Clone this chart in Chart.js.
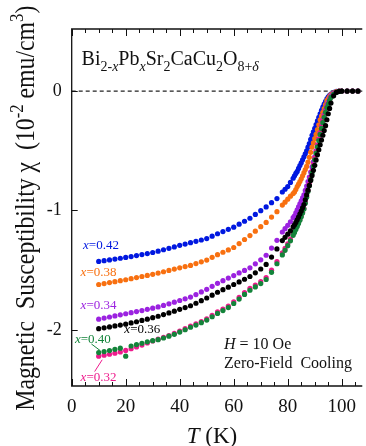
<!DOCTYPE html>
<html>
<head>
<meta charset="utf-8">
<script src="https://cdn.jsdelivr.net/npm/chart.js@4.4.0/dist/chart.umd.min.js"></script>
<style>
  html, body { margin: 0; padding: 0; background: #fff; }
</style>
</head>
<body>
<canvas id="chi" width="366" height="446"></canvas>
<script>
// temperatures (K), shared by all samples
const temps = [10,12,14,16,18,20,22,24,26,28,30,32,34,36,38,40,42,44,46,48,50,52,54,56,58,60,62,64,66,68,70,72,74,76,78,
  79,80,81,82,
  82.5,83,83.5,84,84.5,85,85.5,86,86.5,87,87.5,88,88.5,89,89.5,90,90.5,91,91.5,92,92.5,93,93.5,94,94.5,95,95.5,96,
  97,98,99,100,102,104,106];

// susceptibility (10^-2 emu/cm3)
const chi042 = [-1.427,-1.420,-1.414,-1.407,-1.400,-1.393,-1.386,-1.378,-1.369,-1.361,-1.352,-1.341,-1.329,-1.317,-1.305,-1.292,-1.281,-1.270,-1.258,-1.247,-1.235,-1.215,-1.195,-1.177,-1.158,-1.140,-1.115,-1.090,-1.065,-1.033,-1.002,-0.970,-0.935,-0.900,-0.845,
  -0.822,-0.800,-0.765,-0.730,
  -0.710,-0.690,-0.673,-0.648,-0.624,-0.600,-0.575,-0.550,-0.525,-0.500,-0.470,-0.440,-0.405,-0.370,-0.341,-0.312,-0.281,-0.250,-0.219,-0.190,-0.161,-0.135,-0.110,-0.087,-0.066,-0.048,-0.036,-0.025,
  -0.011,-0.003,-0.001,0,0,0,0];
const chi038 = [-1.620,-1.612,-1.604,-1.596,-1.588,-1.580,-1.571,-1.562,-1.553,-1.544,-1.535,-1.524,-1.513,-1.502,-1.491,-1.480,-1.470,-1.460,-1.445,-1.430,-1.415,-1.392,-1.370,-1.350,-1.330,-1.310,-1.277,-1.243,-1.210,-1.173,-1.136,-1.100,-1.055,-1.010,-0.955,
  -0.930,-0.905,-0.880,-0.858,
  -0.845,-0.825,-0.800,-0.780,-0.758,-0.735,-0.709,-0.683,-0.657,-0.631,-0.595,-0.555,-0.513,-0.470,-0.434,-0.398,-0.362,-0.323,-0.282,-0.240,-0.209,-0.178,-0.147,-0.113,-0.080,-0.062,-0.045,-0.030,
  -0.015,-0.005,-0.001,0,0,0,0];
const chi034 = [-1.910,-1.901,-1.892,-1.883,-1.874,-1.865,-1.856,-1.847,-1.838,-1.828,-1.818,-1.808,-1.795,-1.782,-1.768,-1.754,-1.740,-1.725,-1.704,-1.682,-1.660,-1.635,-1.610,-1.588,-1.566,-1.545,-1.523,-1.502,-1.480,-1.447,-1.413,-1.375,-1.315,-1.250,-1.180,
  -1.152,-1.124,-1.095,-1.060,
  -1.045,-1.020,-0.995,-0.970,-0.945,-0.920,-0.895,-0.870,-0.832,-0.795,-0.758,-0.720,-0.678,-0.635,-0.592,-0.550,-0.500,-0.450,-0.400,-0.347,-0.293,-0.240,-0.200,-0.160,-0.120,-0.093,-0.066,-0.040,
  -0.022,-0.010,-0.003,0,0,0,0];
const chi036 = [-1.990,-1.983,-1.975,-1.967,-1.960,-1.952,-1.942,-1.932,-1.921,-1.910,-1.898,-1.886,-1.872,-1.858,-1.843,-1.828,-1.813,-1.798,-1.777,-1.755,-1.733,-1.709,-1.685,-1.663,-1.642,-1.620,-1.598,-1.576,-1.553,-1.522,-1.490,-1.452,-1.390,-1.322,-1.252,
  -1.225,-1.198,-1.170,-1.137,
  -1.120,-1.100,-1.078,-1.055,-1.030,-1.005,-0.978,-0.950,-0.910,-0.870,-0.830,-0.790,-0.748,-0.706,-0.664,-0.622,-0.578,-0.534,-0.492,-0.450,-0.410,-0.370,-0.330,-0.290,-0.240,-0.190,-0.145,-0.100,
  -0.040,-0.010,-0.002,0,0,0,0];
const chi040 = [-2.190,-2.182,-2.173,-2.163,-2.153,-2.220,-2.135,-2.123,-2.112,-2.100,-2.090,-2.082,-2.068,-2.053,-2.037,-2.018,-1.999,-1.978,-1.960,-1.940,-1.918,-1.890,-1.862,-1.838,-1.813,-1.779,-1.742,-1.703,-1.668,-1.640,-1.612,-1.578,-1.518,-1.446,-1.372,
  -1.334,-1.295,-1.254,-1.208,
  -1.184,-1.160,-1.135,-1.110,-1.082,-1.053,-1.022,-0.988,-0.940,-0.890,-0.842,-0.793,-0.740,-0.685,-0.630,-0.575,-0.520,-0.467,-0.414,-0.363,-0.313,-0.263,-0.220,-0.178,-0.138,-0.108,-0.080,-0.053,
  -0.027,-0.011,-0.003,0,0,0,0];
const chi032 = [-2.220,-2.212,-2.204,-2.195,-2.185,-2.172,-2.158,-2.143,-2.127,-2.110,-2.093,-2.078,-2.063,-2.047,-2.030,-2.010,-1.990,-1.968,-1.950,-1.930,-1.908,-1.878,-1.850,-1.825,-1.800,-1.765,-1.727,-1.688,-1.652,-1.625,-1.596,-1.562,-1.500,-1.428,-1.355,
  -1.318,-1.280,-1.240,-1.195,
  -1.172,-1.148,-1.124,-1.100,-1.073,-1.045,-1.015,-0.982,-0.932,-0.882,-0.832,-0.782,-0.727,-0.672,-0.617,-0.562,-0.508,-0.455,-0.402,-0.352,-0.302,-0.252,-0.210,-0.170,-0.130,-0.103,-0.076,-0.050,
  -0.025,-0.010,-0.003,0,0,0,0];

const xTicks = [0,20,40,60,80,100];
const xMinor = [5,10,15,25,30,35,45,50,55,65,70,75,85,90,95,105];
const yTicks = [0,-1,-2];

const serif = "'Liberation Serif','Times New Roman',serif";

// first dataset is drawn on top
const series = [
  {label:'0.36', data:chi036, color:'#000000', lx:19.5, ly:-2.028},
  {label:'0.40', data:chi040, color:'#13843a', lx:1.2,  ly:-2.106},
  {label:'0.32', data:chi032, color:'#ee1a8c', lx:3.3,  ly:-2.427},
  {label:'0.34', data:chi034, color:'#9b22e0', lx:3.3,  ly:-1.827},
  {label:'0.38', data:chi038, color:'#f87010', lx:3.3,  ly:-1.548},
  {label:'0.42', data:chi042, color:'#0018e0', lx:4.2,  ly:-1.324}
];

function points(vals){
  return temps.map((t,i)=>({x:t, y:vals[i]}));
}

// text with italic / sub / sup parts, returns end x
function richText(ctx, parts, x, y, size){
  parts.forEach(p=>{
    let s = (p.sub || p.sup) ? size*0.7 : size;
    ctx.font = (p.it ? 'italic ' : '') + s + 'px ' + serif;
    let dy = p.sub ? size*0.3 : (p.sup ? -size*0.4 : 0);
    ctx.fillText(p.t, x, y+dy);
    x += ctx.measureText(p.t).width;
  });
  return x;
}
function richWidth(ctx, parts, size){
  let w = 0;
  parts.forEach(p=>{
    let s = (p.sub || p.sup) ? size*0.7 : size;
    ctx.font = (p.it ? 'italic ' : '') + s + 'px ' + serif;
    w += ctx.measureText(p.t).width;
  });
  return w;
}

const framePlugin = {
  id: 'frame',
  beforeDatasetsDraw(chart){
    const {ctx, chartArea:a, scales:{y}} = chart;
    const y0 = y.getPixelForValue(0);
    ctx.save();
    ctx.setLineDash([4,3]);
    ctx.strokeStyle = '#222';
    ctx.lineWidth = 1.2;
    ctx.beginPath();
    ctx.moveTo(a.left, y0);
    ctx.lineTo(a.right, y0);
    ctx.stroke();
    ctx.restore();
  },
  afterDraw(chart){
    const {ctx, chartArea:a, scales:{x,y}} = chart;
    ctx.save();
    ctx.strokeStyle = '#111';
    ctx.lineWidth = 1.3;

    // frame (right side is cut off)
    ctx.beginPath();
    ctx.moveTo(a.right, a.top);
    ctx.lineTo(a.left, a.top);
    ctx.lineTo(a.left, a.bottom);
    ctx.lineTo(a.right, a.bottom);
    ctx.stroke();

    // inward ticks
    ctx.lineWidth = 1;
    ctx.beginPath();
    xTicks.concat(xMinor).forEach(v=>{
      let px = Math.round(x.getPixelForValue(v)) + 0.5;
      let len = xTicks.includes(v) ? 7 : 4;
      ctx.moveTo(px, a.bottom); ctx.lineTo(px, a.bottom-len);
      ctx.moveTo(px, a.top); ctx.lineTo(px, a.top+len);
    });
    yTicks.forEach(v=>{
      let py = Math.round(y.getPixelForValue(v)) + 0.5;
      ctx.moveTo(a.left, py); ctx.lineTo(a.left+6, py);
    });
    ctx.stroke();

    const at = (t,v)=>[x.getPixelForValue(t), y.getPixelForValue(v)];
    ctx.textBaseline = 'alphabetic';
    ctx.textAlign = 'left';

    // sample labels
    series.forEach(s=>{
      ctx.fillStyle = s.color;
      let [px,py] = at(s.lx, s.ly);
      richText(ctx, [{t:'x', it:true}, {t:'=' + s.label}], px, py, 13);
    });

    // leader lines for x=0.40 and x=0.32
    ctx.lineWidth = 1;
    ctx.strokeStyle = '#13843a';
    ctx.beginPath();
    ctx.moveTo(...at(7.3,-2.118)); ctx.lineTo(...at(10.6,-2.174));
    ctx.stroke();
    ctx.strokeStyle = '#ee1a8c';
    ctx.beginPath();
    ctx.moveTo(...at(8.5,-2.349)); ctx.lineTo(...at(11.3,-2.25));
    ctx.stroke();

    ctx.fillStyle = '#111';
    // compound formula
    let [fx,fy] = at(3.66, 0.22);
    richText(ctx, [
      {t:'Bi'}, {t:'2-', sub:true}, {t:'x', sub:true, it:true},
      {t:'Pb'}, {t:'x', sub:true, it:true},
      {t:'Sr'}, {t:'2', sub:true},
      {t:'CaCu'}, {t:'2', sub:true},
      {t:'O'}, {t:'8+', sub:true}, {t:'δ', sub:true, it:true}
    ], fx, fy, 20);

    // field note
    let [hx,hy] = at(56.4, -2.16);
    richText(ctx, [{t:'H', it:true}, {t:' = 10 Oe'}], hx, hy, 16);
    let [zx,zy] = at(56.4, -2.322);
    richText(ctx, [{t:'Zero-Field  Cooling'}], zx, zy, 16);

    // x axis title
    const xt = [{t:'T', it:true}, {t:' (K)'}];
    let w = richWidth(ctx, xt, 23);
    richText(ctx, xt, 212 - w/2, 443, 23);

    // y axis title, squeezed along its length like the original
    const yt = [{t:'Magnetic  Susceptibility '}, {t:'χ'}, {t:'  (10'}, {t:'-2', sup:true}, {t:' emu/cm'}, {t:'3', sup:true}, {t:')'}];
    let yw = richWidth(ctx, yt, 27);
    ctx.translate(34, 410.7);
    ctx.rotate(-Math.PI/2);
    ctx.scale(405/yw, 1);
    richText(ctx, yt, 0, 0, 27);
    ctx.restore();
  }
};

new Chart(document.getElementById('chi'), {
  type: 'scatter',
  data: {
    datasets: series.map(s=>({
      label: 'x=' + s.label,
      data: points(s.data),
      backgroundColor: s.color,
      borderColor: s.color,
      borderWidth: 0,
      pointRadius: 2.6,
      showLine: false
    }))
  },
  options: {
    responsive: false,
    animation: false,
    devicePixelRatio: 1,
    layout: { padding: {top:29, left:0, right:0, bottom:0}, autoPadding: false },
    plugins: { legend: {display:false}, tooltip: {enabled:false} },
    scales: {
      x: {
        type: 'linear', position: 'bottom', min: 0, max: 107.6,
        afterFit: s => { s.height = 60; },
        afterBuildTicks: s => { s.ticks = xTicks.map(v=>({value:v})); },
        grid: {display:false, drawTicks:false},
        border: {display:false},
        ticks: {font:{family:serif, size:19}, color:'#111', padding:10}
      },
      y: {
        type: 'linear', min: -2.47, max: 0.52,
        afterFit: s => { s.width = 71.7; },
        afterBuildTicks: s => { s.ticks = yTicks.map(v=>({value:v})); },
        grid: {display:false, drawTicks:false},
        border: {display:false},
        ticks: {font:{family:serif, size:18}, color:'#111', padding:10}
      }
    }
  },
  plugins: [framePlugin]
});
</script>
</body>
</html>
